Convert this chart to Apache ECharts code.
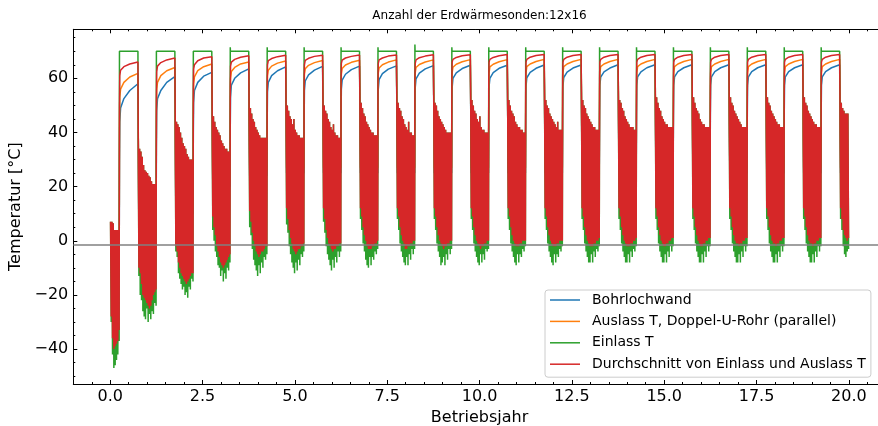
<!DOCTYPE html>
<html><head><meta charset="utf-8">
<script src="https://cdn.jsdelivr.net/npm/echarts@6/dist/echarts.min.js"></script>
<style>html,body{margin:0;padding:0;background:#fff}#c{width:878px;height:426px}</style>
</head><body><div id="c"></div>
<script>
const chartTitle = 'Anzahl der Erdwärmesonden:12x16';
const seriesNames = ['Bohrlochwand', 'Auslass T, Doppel-U-Rohr (parallel)', 'Einlass T', 'Durchschnitt von Einlass und Auslass T'];
const xTickLabels = [0, 2.5, 5, 7.5, 10, 12.5, 15, 17.5, 20];
const yTickLabels = [-40, -20, 0, 20, 40, 60];
const groundTemp = -1.3;
const years = 20;

// charging season (plateau) sample offsets (years after plateau start)
const plateauOffsets = [0, 0.008, 0.03, 0.12, 0.28, 0.5];
const greenLevel = 70;
const greenPeak = [70, 70, 70, 71.5, 71.5, 71.5, 71.5, 71.5, 72.5, 71.5, 71.5, 71.5, 71.5, 71.5, 71.5, 71.5, 71.5, 71.5, 71.5, 71.5];
const plateauBlue = [
  [30, 44, 49, 52.5, 55.5, 58],
  [35, 48, 52.5, 55.5, 58.5, 60.6],
  [40, 51, 55.5, 58.5, 60.8, 62.2],
  [42, 53, 57.5, 60, 62, 63.5],
  [44, 55, 58.5, 61, 62.8, 64.2],
  [44, 55.5, 59, 61.3, 63, 64.4],
  [45, 56, 59.3, 61.5, 63.2, 64.5],
  [45, 56, 59.5, 61.7, 63.4, 64.6],
  [46, 56.5, 59.8, 61.9, 63.5, 64.7],
  [46, 56.5, 60, 62, 63.6, 64.8],
  [46, 57, 60, 62.1, 63.7, 64.8],
  [47, 57, 60.2, 62.2, 63.7, 64.9],
  [47, 57, 60.3, 62.3, 63.8, 64.9],
  [47, 57.5, 60.4, 62.4, 63.8, 65],
  [47, 57.5, 60.5, 62.4, 63.9, 65],
  [47, 57.5, 60.5, 62.5, 63.9, 65],
  [47, 57.5, 60.5, 62.5, 63.9, 65],
  [47, 57.5, 60.5, 62.5, 63.9, 65],
  [47, 57.5, 60.5, 62.5, 63.9, 65],
  [47, 57.5, 60.5, 62.5, 63.9, 65]
];
const plateauOrange = [
  [42, 53, 56, 58.5, 60.5, 61.8],
  [46, 56, 58.5, 61, 62.8, 64],
  [50, 58, 60.5, 62.8, 64.3, 65.3],
  [52, 60, 62.5, 64, 65.3, 66],
  [54, 61, 63, 64.5, 65.6, 66.4],
  [54, 61.5, 63.5, 64.8, 65.8, 66.6],
  [54, 61.5, 63.6, 64.9, 65.9, 66.7],
  [55, 62, 63.8, 65, 66, 66.8],
  [55, 62, 64, 65.1, 66, 66.8],
  [55, 62, 64.1, 65.2, 66.1, 66.9],
  [55, 62, 64.2, 65.2, 66.1, 66.9],
  [55, 62, 64.3, 65.3, 66.2, 67],
  [55, 62, 64.3, 65.3, 66.2, 67],
  [55, 62, 64.3, 65.3, 66.2, 67],
  [55, 62, 64.3, 65.3, 66.2, 67],
  [55, 62, 64.3, 65.3, 66.2, 67],
  [55, 62, 64.3, 65.3, 66.2, 67],
  [55, 62, 64.3, 65.3, 66.2, 67],
  [55, 62, 64.3, 65.3, 66.2, 67],
  [55, 62, 64.3, 65.3, 66.2, 67]
];
const plateauRed = [
  [50, 61, 63, 64.3, 65.3, 66],
  [52, 62.5, 64.5, 65.8, 66.8, 67.5],
  [55, 63.5, 65, 66.5, 67.5, 68],
  [57, 64.5, 66, 67, 67.8, 68.3],
  [58, 65, 66.5, 67.3, 68, 68.5],
  [58, 65, 66.6, 67.4, 68.1, 68.5],
  [59, 65.5, 66.7, 67.5, 68.1, 68.6],
  [59, 65.5, 66.8, 67.5, 68.2, 68.6],
  [60, 65.5, 66.8, 67.6, 68.2, 68.7],
  [60, 66, 67, 67.7, 68.3, 68.7],
  [60, 66, 67, 67.7, 68.3, 68.8],
  [60, 66, 67, 67.8, 68.4, 68.8],
  [60, 66, 67, 67.8, 68.4, 68.8],
  [60, 66, 67, 67.8, 68.4, 68.8],
  [60, 66, 67, 67.8, 68.4, 68.8],
  [60, 66, 67, 67.8, 68.4, 68.8],
  [60, 66, 67, 67.8, 68.4, 68.8],
  [60, 66, 67, 67.8, 68.4, 68.8],
  [60, 66, 67, 67.8, 68.4, 68.8],
  [60, 66, 67, 67.8, 68.4, 68.8]
];

// heating season (winter) hourly swings: upper / lower values of the average (red), lower values of inlet (green)
const winterHi = [
  [7, 7, 6.5, 4, 4, 4, 4],
  [40, 34, 33, 31, 28, 26, 25.5, 25, 24, 23.5, 22, 21, 21, 21],
  [48, 44, 43, 42, 40, 38, 36, 35, 34, 32, 31, 30, 30, 30],
  [50, 46, 44, 42, 41, 40, 39, 37, 36, 35, 34, 34, 33, 33],
  [52, 49, 47, 45, 44, 42, 41, 40, 39, 38, 38, 38, 38, 38],
  [53, 50, 48, 46, 45, 43, 45, 41, 40, 39, 39, 38, 38, 38],
  [53, 50, 48, 47, 45, 44, 42, 41, 43, 40, 39, 39, 38, 38],
  [54, 51, 49, 47, 46, 44, 43, 42, 41, 40, 40, 39, 39, 39],
  [54, 51, 49, 48, 46, 45, 43, 42, 41, 44, 40, 40, 39, 39],
  [54, 51, 50, 48, 46, 45, 44, 43, 42, 41, 40, 40, 40, 40],
  [55, 52, 50, 48, 47, 45, 44, 46, 42, 41, 41, 40, 40, 40],
  [55, 52, 50, 48, 47, 46, 44, 43, 42, 42, 41, 41, 40, 40],
  [55, 52, 50, 49, 47, 46, 45, 44, 43, 42, 44, 41, 41, 41],
  [55, 52, 50, 49, 47, 46, 45, 44, 43, 42, 42, 41, 41, 41],
  [55, 52, 51, 49, 48, 46, 45, 44, 43, 42, 42, 42, 41, 41],
  [56, 53, 51, 49, 48, 46, 45, 44, 43, 43, 42, 42, 42, 42],
  [56, 53, 51, 49, 48, 47, 45, 44, 43, 43, 42, 42, 42, 42],
  [56, 53, 51, 50, 48, 47, 46, 45, 44, 43, 42, 42, 42, 42],
  [56, 53, 51, 50, 48, 47, 46, 45, 44, 43, 43, 42, 42, 42],
  [56, 53, 51, 50, 48, 47, 46, 45, 44, 43, 43, 42, 42, 42],
  [54, 51, 49, 48, 47, 47, 47]
];
const winterLo = [
  [-28, -36, -40, -39, -38, -37, -33],
  [-10, -12, -16, -20, -21, -22, -23, -24, -25, -24, -22, -20, -19, -18],
  [-2, -4, -8, -10, -12, -13, -14, -15, -16, -15, -14, -13, -12, -12],
  [9, 5, 2, -2, -4, -6, -8, -9, -10, -9, -8, -7, -6, -5],
  [11, 7, 3, 0, -2, -4, -5, -6, -5, -4, -4, -3, -2, -2],
  [12, 8, 4, 1, -1, -3, -4, -5, -4, -3, -3, -2, -2, -1],
  [12, 8, 4, 1, -1, -2, -3, -4, -3, -3, -2, -2, -1, -1],
  [12, 9, 5, 2, 0, -2, -3, -3, -3, -2, -2, -1, -1, 0],
  [12, 9, 5, 2, 0, -1, -3, -3, -2, -2, -1, -1, 0, 0],
  [12, 9, 5, 2, 0, -1, -2, -3, -2, -2, -1, -1, 0, 0],
  [12, 9, 5, 2, 0, -1, -2, -3, -2, -2, -1, -1, 0, 0],
  [12, 9, 5, 2, 0, -1, -2, -2, -2, -1, -1, 0, 0, 0],
  [12, 9, 5, 2, 0, -1, -2, -2, -2, -1, -1, 0, 0, 0],
  [12, 9, 5, 2, 0, -1, -2, -2, -2, -1, -1, 0, 0, 1],
  [12, 9, 5, 2, 0, -1, -2, -2, -2, -1, -1, 0, 0, 1],
  [12, 9, 5, 2, 0, -1, -2, -2, -1, -1, 0, 0, 1, 1],
  [12, 9, 5, 2, 0, -1, -2, -2, -1, -1, 0, 0, 1, 1],
  [12, 9, 5, 2, 0, -1, -1, -2, -1, -1, 0, 0, 1, 1],
  [12, 9, 5, 2, 0, -1, -1, -2, -1, -1, 0, 0, 1, 1],
  [12, 9, 5, 2, 0, -1, -1, -2, -1, -1, 0, 0, 1, 1],
  [12, 8, 4, 2, 1, 0, 1]
];
const winterGreenLo = [
  [-30, -42, -47, -46, -44, -42, -37],
  [-13, -20, -22, -26, -28, -29, -25, -30, -27, -29, -26, -27, -23, -24],
  [-4, -6, -12, -14, -16, -18, -17, -20, -19, -21, -17, -18, -14, -15],
  [4, 0, -4, -6, -9, -10, -13, -11, -15, -12, -14, -10, -11, -8],
  [5, 2, -3, -7, -9, -11, -13, -9, -12, -8, -10, -6, -7, -5],
  [6, 3, -2, -5, -8, -10, -12, -8, -11, -7, -9, -5, -6, -4],
  [7, 3, -2, -5, -7, -9, -11, -7, -10, -6, -8, -4, -6, -4],
  [8, 4, -1, -4, -7, -9, -10, -6, -9, -6, -7, -4, -5, -3],
  [8, 4, -1, -4, -6, -8, -9, -6, -9, -5, -7, -3, -5, -3],
  [8, 4, -1, -4, -6, -9, -8, -6, -9, -5, -7, -3, -5, -3],
  [8, 4, -1, -4, -6, -8, -9, -5, -8, -5, -7, -3, -4, -3],
  [8, 4, -1, -4, -6, -8, -9, -5, -8, -5, -6, -3, -4, -2],
  [8, 4, -1, -4, -6, -8, -9, -5, -8, -5, -6, -3, -4, -2],
  [8, 4, -1, -4, -6, -8, -8, -5, -8, -4, -6, -3, -4, -2],
  [8, 4, -1, -4, -6, -8, -8, -5, -8, -4, -6, -3, -4, -2],
  [8, 4, -1, -4, -6, -8, -8, -5, -8, -4, -6, -2, -4, -2],
  [8, 4, -1, -4, -6, -8, -8, -5, -8, -4, -6, -2, -4, -2],
  [8, 4, -1, -4, -6, -8, -8, -5, -8, -4, -6, -2, -4, -2],
  [8, 4, -1, -4, -6, -8, -8, -5, -8, -4, -6, -2, -4, -2],
  [8, 4, -1, -4, -6, -8, -8, -5, -8, -4, -6, -2, -4, -2],
  [8, 4, -2, -5, -6, -4, -3]
];
const blueWinter = [-15, 0, 10, 20, 24, 25, 25, 25, 25, 25, 25, 25, 25, 25, 25, 25, 25, 25, 25, 25, 25];
const orangeWinter = [-12, 2, 12, 22, 26, 27, 27, 27, 27, 27, 27, 27, 27, 27, 27, 27, 27, 27, 27, 27, 27];

// build series point lists (time positions from the season layout)
const blue = [], orange = [], green = [], red = [];
for (let w = 0; w <= years; w++) {
  const s = w === 0 ? 0 : w - 0.25;
  const e = w === years ? years : w + 0.25;
  const hi = winterHi[w], lo = winterLo[w], glo = winterGreenLo[w];
  const n = hi.length, step = (e - s) / n;
  for (let k = 0; k < n; k++) {
    const t1 = s + (k + 0.25) * step, t2 = s + (k + 0.75) * step;
    red.push([t1, hi[k]], [t2, lo[k]]);
    green.push([t1, hi[k]], [t2, glo[k]]);
  }
  blue.push([s + 0.75 * step, blueWinter[w]], [e - 0.25 * step, blueWinter[w]]);
  orange.push([s + 0.75 * step, orangeWinter[w]], [e - 0.25 * step, orangeWinter[w]]);
  if (w < years) {
    const ps = w + 0.25;
    plateauOffsets.forEach((o, i) => {
      red.push([ps + o, plateauRed[w][i]]);
      blue.push([ps + o, plateauBlue[w][i]]);
      orange.push([ps + o, plateauOrange[w][i]]);
    });
    green.push([ps, greenPeak[w]], [ps + 0.004, greenLevel], [ps + 0.5, greenLevel]);
  }
}

const FONT = 'DejaVu Sans';
const xMinor = [], yMinor = [];
for (let v = -1; v <= 21.001; v += 0.5) xMinor.push(+v.toFixed(2));
for (let v = -50; v <= 75; v += 5) yMinor.push(v);
const black = {color: '#000', width: 1};
function xAx(pos, major, label) {
  return {
    type: 'value', position: pos, min: -1, max: 21,
    axisLine: {show: major, onZero: false, lineStyle: black},
    splitLine: {show: false},
    axisTick: {show: true, inside: true, length: major ? 4 : 2, customValues: major ? xTickLabels : xMinor, lineStyle: black},
    axisLabel: label ? {show: true, customValues: xTickLabels, formatter: v => v.toFixed(1), fontSize: 16, color: '#000', fontFamily: FONT, margin: 5} : {show: false},
    name: label ? 'Betriebsjahr' : '', nameLocation: 'middle', nameGap: 24,
    nameTextStyle: {fontSize: 16, color: '#000', fontFamily: FONT}
  };
}
function yAx(major, label) {
  return {
    type: 'value', position: 'left', min: -52.9, max: 78.1,
    axisLine: {show: major, onZero: false, lineStyle: black},
    splitLine: {show: false},
    axisTick: {show: true, inside: true, length: major ? 4 : 2, customValues: major ? yTickLabels : yMinor, lineStyle: black},
    axisLabel: label ? {show: true, customValues: yTickLabels, formatter: v => (v < 0 ? '\u2212' + Math.abs(v) : String(v)), fontSize: 16, color: '#000', fontFamily: FONT, margin: 5} : {show: false},
    name: label ? 'Temperatur [°C]' : '', nameLocation: 'middle', nameGap: 47,
    nameTextStyle: {fontSize: 16, color: '#000', fontFamily: FONT}
  };
}
const colors = ['#1f77b4', '#ff7f0e', '#2ca02c', '#d62728'];
const dataSets = [blue, orange, green, red];
const series = dataSets.map((d, i) => ({
  name: seriesNames[i], type: 'line', data: d, xAxisIndex: 0, yAxisIndex: 0,
  showSymbol: false, symbol: 'none', silent: true, animation: false,
  lineStyle: {color: colors[i], width: 1.5}, itemStyle: {color: colors[i]},
  emphasis: {disabled: true}
}));
series[3].markLine = {
  silent: true, symbol: ['none', 'none'], animation: false,
  label: {show: false}, lineStyle: {color: '#808080', width: 1.5, type: 'solid'},
  data: [{yAxis: groundTemp}]
};

const chart = echarts.init(document.getElementById('c'), null, {renderer: 'canvas'});
chart.setOption({
  backgroundColor: '#fff',
  animation: false,
  title: {text: chartTitle, left: 479.5, top: 10, textAlign: 'center', padding: 0,
    textStyle: {fontSize: 12, fontWeight: 'normal', color: '#000', fontFamily: FONT}},
  grid: {left: 73.3, right: -7.8, top: 29.3, bottom: 42, containLabel: false, outerBoundsMode: 'none'},
  xAxis: [xAx('bottom', true, true), xAx('bottom', false, false), xAx('top', true, false), xAx('top', false, false)],
  yAxis: [yAx(true, true), yAx(false, false)],
  legend: {
    data: seriesNames, orient: 'vertical', left: 545, top: 290,
    icon: 'rect', itemWidth: 30, itemHeight: 1.5, itemGap: 5.4,
    padding: [2, 5, 5, 5], backgroundColor: 'rgba(255,255,255,0.8)',
    borderColor: '#cccccc', borderWidth: 1, borderRadius: 3,
    selectedMode: false,
    textStyle: {fontSize: 14, color: '#000', fontFamily: FONT, lineHeight: 16, padding: [0, 0, 0, 7]}
  },
  series: series
});
</script></body></html>
